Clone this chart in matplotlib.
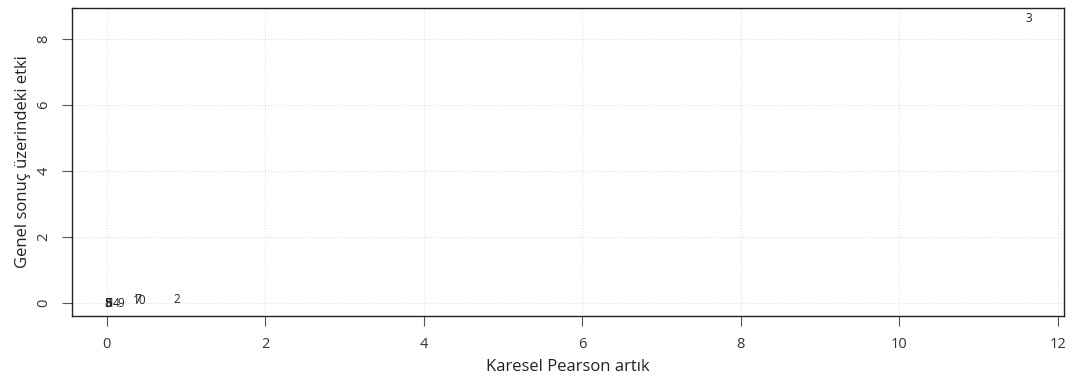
import matplotlib.pyplot as plt

# squared Pearson residual vs. influence on overall result, one label per observation
obs_labels = ["1", "2", "3", "4", "5", "6", "7", "8", "9", "10"]
pearson_sq = [0.06, 0.88, 11.63, 0.11, 0.01, 0.02, 0.39, 0.015, 0.18, 0.41]
influence = [0.0, 0.12, 8.62, -0.01, -0.01, -0.01, 0.10, -0.01, -0.01, 0.07]

plt.rcParams['font.family'] = ['Open Sans', 'DejaVu Sans']

fig = plt.figure(figsize=(10.73, 3.83), dpi=100)
ax = fig.add_axes([72 / 1073, 67 / 383, 992 / 1073, 308 / 383])

for lab, x, y in zip(obs_labels, pearson_sq, influence):
    ax.text(x, y, lab, ha='center', va='center', fontsize=8.5, color='#222222')

ax.set_xlim(-0.44, 12.08)
ax.set_ylim(-0.39, 8.94)
ax.set_xticks(range(0, 13, 2))
ax.set_yticks(range(0, 9, 2))
ax.grid(True, linestyle=(0, (1, 2)), color='#d8d8d8', linewidth=0.7)
ax.set_axisbelow(True)

for s in ax.spines.values():
    s.set_color('#222222')
    s.set_linewidth(1.0)

ax.tick_params(axis='both', direction='out', length=7, color='#555555',
               labelsize=10.5, labelcolor='#333333', pad=8)
for t in ax.get_yticklabels():
    t.set_rotation(90)
    t.set_va('center')

ax.set_xlabel("Karesel Pearson artık", fontsize=12, color='#222222', labelpad=5)
ax.set_ylabel("Genel sonuç üzerindeki etki", fontsize=12, color='#222222', labelpad=4)

fig.savefig("out.png", dpi=100)
